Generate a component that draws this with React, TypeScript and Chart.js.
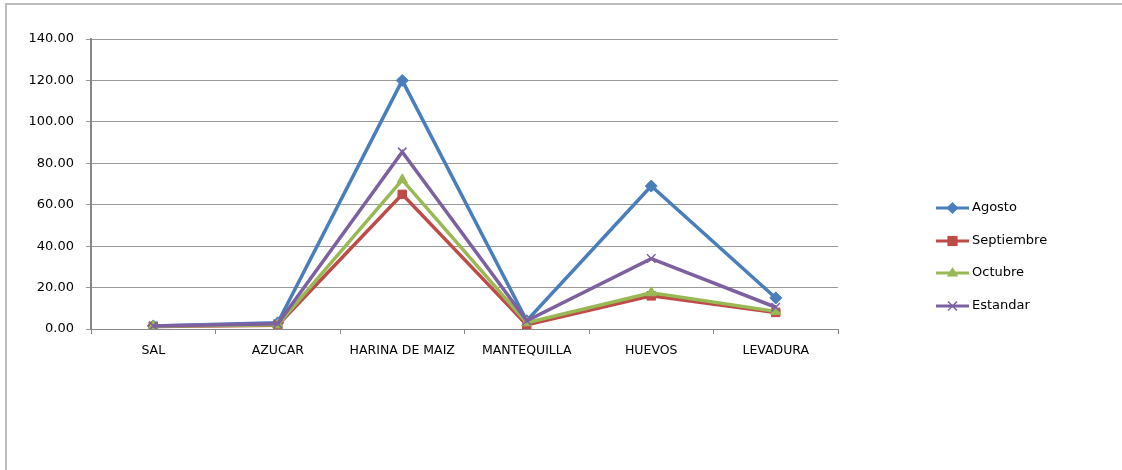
import React, { useEffect, useRef } from "react";
import { Chart, registerables } from "chart.js";

Chart.register(...registerables);

const categories = ["SAL", "AZUCAR", "HARINA DE MAIZ", "MANTEQUILLA", "HUEVOS", "LEVADURA"];
const agosto = [1.5, 3, 120, 4, 69, 15];
const septiembre = [1.2, 1.8, 65, 2, 16, 8];
const octubre = [1.3, 2, 72, 3, 17.5, 8.5];
const estandar = [1.5, 2.5, 85.5, 4, 34, 10.5];
const seriesNames = ["Agosto", "Septiembre", "Octubre", "Estandar"];
const yTicks = [0, 20, 40, 60, 80, 100, 120, 140];

const colors = ["#4A7EBB", "#BE4B48", "#98B954", "#7D60A0"];
const pointStyles = ["rectRot", "rect", "triangle", "crossRot"];
const FONT = "DejaVu Sans";

function drawMarker(ctx: CanvasRenderingContext2D, style: string, x: number, y: number, r: number, color: string) {
  ctx.save();
  ctx.fillStyle = color;
  ctx.strokeStyle = color;
  ctx.lineWidth = 1.5;
  ctx.beginPath();
  if (style === "rectRot") {
    ctx.moveTo(x, y - r);
    ctx.lineTo(x + r, y);
    ctx.lineTo(x, y + r);
    ctx.lineTo(x - r, y);
    ctx.closePath();
    ctx.fill();
  } else if (style === "rect") {
    const s = r * 0.85;
    ctx.rect(x - s, y - s, 2 * s, 2 * s);
    ctx.fill();
  } else if (style === "triangle") {
    ctx.moveTo(x, y - r);
    ctx.lineTo(x + r * 0.95, y + r * 0.6);
    ctx.lineTo(x - r * 0.95, y + r * 0.6);
    ctx.closePath();
    ctx.fill();
  } else {
    const s = r * 0.75;
    ctx.moveTo(x - s, y - s);
    ctx.lineTo(x + s, y + s);
    ctx.moveTo(x + s, y - s);
    ctx.lineTo(x - s, y + s);
    ctx.stroke();
  }
  ctx.restore();
}

const legendPlugin = {
  id: "customLegend",
  afterDraw(chart: any) {
    const ctx = chart.ctx;
    const x0 = 936;
    const lineLen = 33;
    const ys = [208, 241, 273, 306];
    chart.data.datasets.forEach((ds: any, i: number) => {
      const y = ys[i];
      ctx.save();
      ctx.strokeStyle = ds.borderColor;
      ctx.lineWidth = 3;
      ctx.beginPath();
      ctx.moveTo(x0, y);
      ctx.lineTo(x0 + lineLen, y);
      ctx.stroke();
      ctx.restore();
      drawMarker(ctx, ds.pointStyle, x0 + lineLen / 2, y, 6, ds.borderColor);
      ctx.save();
      ctx.fillStyle = "#000";
      ctx.font = `13px '${FONT}'`;
      ctx.textBaseline = "middle";
      ctx.fillText(ds.label, x0 + lineLen + 3, y);
      ctx.restore();
    });
  },
};

export default function App() {
  const ref = useRef<HTMLCanvasElement>(null);
  useEffect(() => {
    const values = [agosto, septiembre, octubre, estandar];
    const chart = new Chart(ref.current!, {
      type: "line",
      data: {
        labels: categories,
        datasets: values.map((v, i) => ({
          label: seriesNames[i],
          data: v,
          borderColor: colors[i],
          backgroundColor: colors[i],
          pointBackgroundColor: colors[i],
          pointBorderColor: colors[i],
          pointStyle: pointStyles[i],
          pointRadius: 6,
          pointBorderWidth: pointStyles[i] === "crossRot" ? 1.5 : 1,
          borderWidth: 3.5,
          tension: 0,
          fill: false,
          order: 4 - i,
        })),
      },
      options: {
        animation: false,
        responsive: false,
        layout: { padding: { left: 0, top: 39, right: 284, bottom: 101 } },
        plugins: { legend: { display: false }, tooltip: { enabled: false } },
        scales: {
          x: {
            offset: true,
            grid: {
              display: true,
              drawOnChartArea: false,
              drawTicks: true,
              tickLength: 5,
              offset: true,
              color: "#888",
            },
            border: { color: "#888", width: 1 },
            ticks: {
              color: "#000",
              font: { family: FONT, size: 12.5 },
              padding: 9,
              maxRotation: 0,
              autoSkip: false,
            },
            afterFit: (s: any) => {
              s.height = 40;
            },
          },
          y: {
            min: 0,
            max: 140,
            afterBuildTicks: (s: any) => {
              s.ticks = yTicks.map((v) => ({ value: v }));
            },
            grid: { color: "#999", lineWidth: 1, tickLength: 5, drawTicks: true },
            border: { color: "#888", width: 2 },
            ticks: {
              color: "#000",
              font: { family: FONT, size: 13 },
              padding: 12,
              callback: (v: any) => Number(v).toFixed(2),
            },
            afterFit: (s: any) => {
              s.width = 91;
            },
          },
        },
      },
      plugins: [legendPlugin],
    });
    return () => chart.destroy();
  }, []);
  return (
    <div
      style={{
        position: "absolute",
        left: 0,
        top: 0,
        width: 1122,
        height: 470,
        background: "#fff",
        overflow: "hidden",
      }}
    >
      <div
        style={{
          position: "absolute",
          left: 5,
          top: 3,
          right: 0,
          bottom: 0,
          borderTop: "2px solid #bcbcbc",
          borderLeft: "2px solid #bcbcbc",
        }}
      />
      <canvas ref={ref} width={1122} height={470} style={{ position: "absolute", left: 0, top: 0 }} />
    </div>
  );
}
